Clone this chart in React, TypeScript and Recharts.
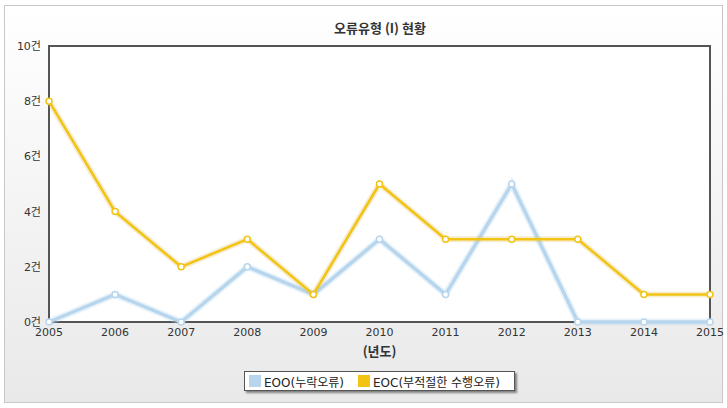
import { LineChart, Line, XAxis, YAxis, CartesianGrid, Legend, ReferenceArea } from "recharts";

const years = ["2005", "2006", "2007", "2008", "2009", "2010", "2011", "2012", "2013", "2014", "2015"];
const eoo = [0, 1, 0, 2, 1, 3, 1, 5, 0, 0, 0];
const eoc = [8, 4, 2, 3, 1, 5, 3, 3, 3, 1, 1];
const yTicks = [0, 2, 4, 6, 8, 10];

const FONT = "'DejaVu Sans', 'Noto Sans CJK KR', sans-serif";
const KFONT = "'Noto Sans CJK KR', 'DejaVu Sans', sans-serif";
const BLUE = "#b7d6ee";
const YELLOW = "#f2c312";

const chartData = years.map((y, i) => ({ year: y, eoo: eoo[i], eoc: eoc[i] }));

const legendItems = [
  { label: "EOO(누락오류)", color: BLUE },
  { label: "EOC(부적절한 수행오류)", color: YELLOW },
];

function LegendBox() {
  return (
    <div
      style={{
        position: "absolute",
        left: 244,
        top: 371,
        width: 271,
        height: 20,
        background: "#fff",
        border: "1px solid #555",
        boxShadow: "2px 2px 2px rgba(0,0,0,0.45)",
        display: "flex",
        alignItems: "center",
        fontFamily: FONT,
        fontSize: 12,
        color: "#222",
        boxSizing: "border-box",
        paddingLeft: 4,
      }}
    >
      {legendItems.map((it, i) => (
        <div key={i} style={{ display: "flex", alignItems: "center", marginRight: i === 0 ? 14 : 0 }}>
          <span style={{ display: "inline-block", width: 12, height: 12, background: it.color, marginRight: 3 }} />
          {it.label}
        </div>
      ))}
    </div>
  );
}

export default function App() {
  return (
    <div style={{ position: "absolute", left: 0, top: 0, width: 727, height: 408, background: "#fff" }}>
      <div
        style={{
          position: "absolute",
          left: 4,
          top: 5,
          width: 719,
          height: 398,
          boxSizing: "border-box",
          border: "1px solid #c8c8c8",
          background: "linear-gradient(#ffffff 0%, #f4f4f4 50%, #e9e9e9 100%)",
        }}
      />
      <div
        style={{
          position: "absolute",
          left: 0,
          top: 18,
          width: 760,
          textAlign: "center",
          fontFamily: KFONT,
          fontSize: 13,
          fontWeight: "bold",
          color: "#333",
        }}
      >
        오류유형 (I) 현황
      </div>
      <div style={{ position: "absolute", left: 0, top: 0 }}>
        <LineChart
          width={727}
          height={408}
          data={chartData}
          margin={{ top: 46, right: 17, left: 9, bottom: 66 }}
        >
          <ReferenceArea x1="2005" x2="2015" y1={0} y2={10} fill="#fff" fillOpacity={1} stroke="none" ifOverflow="visible" />
          <CartesianGrid vertical={false} stroke="#c8c8c8" strokeWidth={1} />
          <XAxis
            dataKey="year"
            axisLine={false}
            tickLine={false}
            tick={{ fontFamily: FONT, fontSize: 11, fill: "#333" }}
            tickMargin={0}
            height={20}
            interval={0}
            label={{ value: "(년도)", position: "bottom", offset: 5, style: { fontFamily: KFONT, fontSize: 13, fontWeight: "bold", fill: "#333" } }}
          />
          <YAxis
            domain={[0, 10]}
            ticks={yTicks}
            axisLine={false}
            tickLine={false}
            tickMargin={2}
            width={40}
            tickFormatter={(v) => `${v}건`}
            tick={{ fontFamily: FONT, fontSize: 11, fill: "#333" }}
          />
          <ReferenceArea x1="2005" x2="2015" y1={0} y2={10} fill="none" stroke="#555" strokeWidth={2} ifOverflow="visible" />
          <Line dataKey="eoo" stroke={BLUE} strokeOpacity={0.3} strokeWidth={7} dot={false} activeDot={false} isAnimationActive={false} legendType="none" />
          <Line
            dataKey="eoo"
            name="EOO(누락오류)"
            stroke={BLUE}
            strokeWidth={3.5}
            dot={{ r: 3, fill: "#fff", stroke: BLUE, strokeWidth: 1.5 }}
            isAnimationActive={false}
          />
          <Line dataKey="eoc" stroke="#e0c060" strokeOpacity={0.3} strokeWidth={6} dot={false} activeDot={false} isAnimationActive={false} legendType="none" />
          <Line
            dataKey="eoc"
            name="EOC(부적절한 수행오류)"
            stroke={YELLOW}
            strokeWidth={2.5}
            dot={{ r: 3, fill: "#fff", stroke: YELLOW, strokeWidth: 1.5 }}
            isAnimationActive={false}
          />
          <Legend content={() => null} />
        </LineChart>
      </div>
      <LegendBox />
    </div>
  );
}
